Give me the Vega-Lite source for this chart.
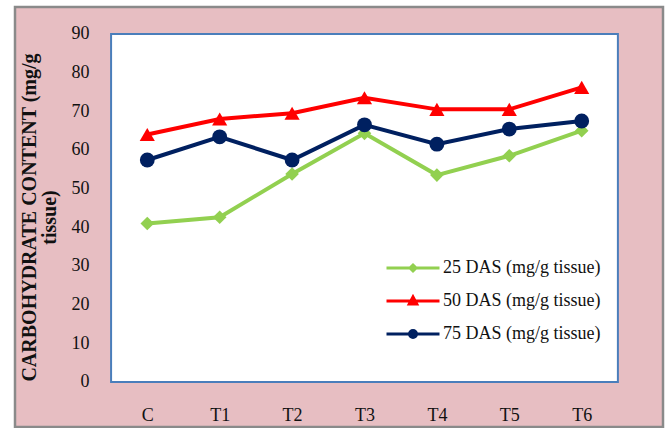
{
  "$schema": "https://vega.github.io/schema/vega-lite/v6.json",
  "width": 648,
  "height": 420,
  "autosize": {"type": "none"},
  "padding": {"left": 15, "top": 7, "right": 6, "bottom": 1},
  "background": "#ffffff",
  "config": {
    "view": {"fill": "#e7bec2", "stroke": "#8a8a8a", "strokeWidth": 2.5},
    "axis": {"domain": false, "ticks": false, "grid": false, "labelFont": "Liberation Serif", "labelFontSize": 18, "labelColor": "#111111", "titleFont": "Liberation Serif", "titleColor": "#111111"},
    "legend": {"labelFont": "Liberation Serif"}
  },
  "datasets": {
    "series": [
      {"treatment": "C", "idx": 0, "series": "25 DAS (mg/g tissue)", "value": 41},
      {"treatment": "T1", "idx": 1, "series": "25 DAS (mg/g tissue)", "value": 42.6},
      {"treatment": "T2", "idx": 2, "series": "25 DAS (mg/g tissue)", "value": 53.8},
      {"treatment": "T3", "idx": 3, "series": "25 DAS (mg/g tissue)", "value": 64.3},
      {"treatment": "T4", "idx": 4, "series": "25 DAS (mg/g tissue)", "value": 53.5},
      {"treatment": "T5", "idx": 5, "series": "25 DAS (mg/g tissue)", "value": 58.5},
      {"treatment": "T6", "idx": 6, "series": "25 DAS (mg/g tissue)", "value": 65},
      {"treatment": "C", "idx": 0, "series": "50 DAS (mg/g tissue)", "value": 64},
      {"treatment": "T1", "idx": 1, "series": "50 DAS (mg/g tissue)", "value": 68},
      {"treatment": "T2", "idx": 2, "series": "50 DAS (mg/g tissue)", "value": 69.5},
      {"treatment": "T3", "idx": 3, "series": "50 DAS (mg/g tissue)", "value": 73.5},
      {"treatment": "T4", "idx": 4, "series": "50 DAS (mg/g tissue)", "value": 70.5},
      {"treatment": "T5", "idx": 5, "series": "50 DAS (mg/g tissue)", "value": 70.5},
      {"treatment": "T6", "idx": 6, "series": "50 DAS (mg/g tissue)", "value": 76.2},
      {"treatment": "C", "idx": 0, "series": "75 DAS (mg/g tissue)", "value": 57.4},
      {"treatment": "T1", "idx": 1, "series": "75 DAS (mg/g tissue)", "value": 63.4},
      {"treatment": "T2", "idx": 2, "series": "75 DAS (mg/g tissue)", "value": 57.4},
      {"treatment": "T3", "idx": 3, "series": "75 DAS (mg/g tissue)", "value": 66.5},
      {"treatment": "T4", "idx": 4, "series": "75 DAS (mg/g tissue)", "value": 61.5},
      {"treatment": "T5", "idx": 5, "series": "75 DAS (mg/g tissue)", "value": 65.4},
      {"treatment": "T6", "idx": 6, "series": "75 DAS (mg/g tissue)", "value": 67.5}
    ],
    "plotarea": [{"idx": -0.5, "idx2": 6.5, "value": 0, "value2": 90}]
  },
  "encoding": {
    "x": {
      "field": "idx", "type": "quantitative",
      "scale": {"domain": [-1.827, 7.123], "nice": false, "zero": false},
      "axis": {"offset": -45, "labelPadding": 24, "values": [0, 1, 2, 3, 4, 5, 6], "labelExpr": "['C','T1','T2','T3','T4','T5','T6'][datum.value]", "title": null}
    },
    "y": {
      "field": "value", "type": "quantitative",
      "scale": {"domain": [-11.64, 96.97], "nice": false, "zero": false},
      "axis": {"offset": -97, "labelPadding": 23, "values": [0, 10, 20, 30, 40, 50, 60, 70, 80, 90], "title": ["CARBOHYDRATE CONTENT (mg/g", "tissue)"], "titleFontSize": 20, "titleFontWeight": "bold", "titleLineHeight": 20, "titlePadding": 12}
    }
  },
  "layer": [
    {
      "data": {"name": "plotarea"},
      "mark": {"type": "rect", "fill": "#ffffff", "stroke": "#4a7ebb", "strokeWidth": 2},
      "encoding": {"x2": {"field": "idx2"}, "y2": {"field": "value2"}}
    },
    {
      "data": {"name": "series"},
      "mark": {"type": "line", "strokeWidth": 4},
      "encoding": {
        "color": {"field": "series", "type": "nominal", "scale": {"range": ["#92d050", "#ff0000", "#002060"]}, "legend": null}
      }
    },
    {
      "data": {"name": "series"},
      "transform": [{"filter": "datum.series === '25 DAS (mg/g tissue)'"}],
      "mark": {"type": "point", "filled": true, "opacity": 1, "size": 185, "shape": "diamond"},
      "encoding": {
        "color": {"field": "series", "type": "nominal", "legend": null}
      }
    },
    {
      "data": {"name": "series"},
      "transform": [{"filter": "datum.series === '50 DAS (mg/g tissue)'"}],
      "mark": {"type": "point", "filled": true, "opacity": 1, "size": 230, "shape": "triangle-up"},
      "encoding": {
        "color": {"field": "series", "type": "nominal", "legend": null}
      }
    },
    {
      "data": {"name": "series"},
      "transform": [{"filter": "datum.series === '75 DAS (mg/g tissue)'"}],
      "mark": {"type": "point", "filled": true, "opacity": 1, "size": 220, "shape": "circle"},
      "encoding": {
        "color": {"field": "series", "type": "nominal", "legend": null}
      }
    },
    {
      "data": {"name": "series"},
      "mark": {"type": "point", "filled": true, "opacity": 0, "strokeWidth": 3},
      "encoding": {
        "fill": {"field": "series", "type": "nominal", "scale": {"range": ["#92d050", "#ff0000", "#002060"]}},
        "stroke": {"field": "series", "type": "nominal", "scale": {"range": ["#92d050", "#ff0000", "#002060"]}},
        "shape": {"field": "series", "type": "nominal",
          "scale": {"range": [
            "M-5.3,0L5.3,0M0,-0.6L0.6,0L0,0.6L-0.6,0Z",
            "M-5.3,0L5.3,0M0,-0.8L0.75,0.6L-0.75,0.6Z",
            "M-5.3,0L5.3,0M-0.7,0A0.7,0.7 0 1,1 0.7,0A0.7,0.7 0 1,1 -0.7,0Z"
          ]},
          "legend": {
            "title": null, "orient": "none", "legendX": 389, "legendY": 252,
            "labelFont": "Liberation Serif", "labelFontSize": 18, "labelColor": "#111111",
            "labelOffset": 21, "rowPadding": 14, "symbolSize": 100, "symbolOpacity": 1, "symbolStrokeWidth": 3
          }
        }
      }
    }
  ]
}
